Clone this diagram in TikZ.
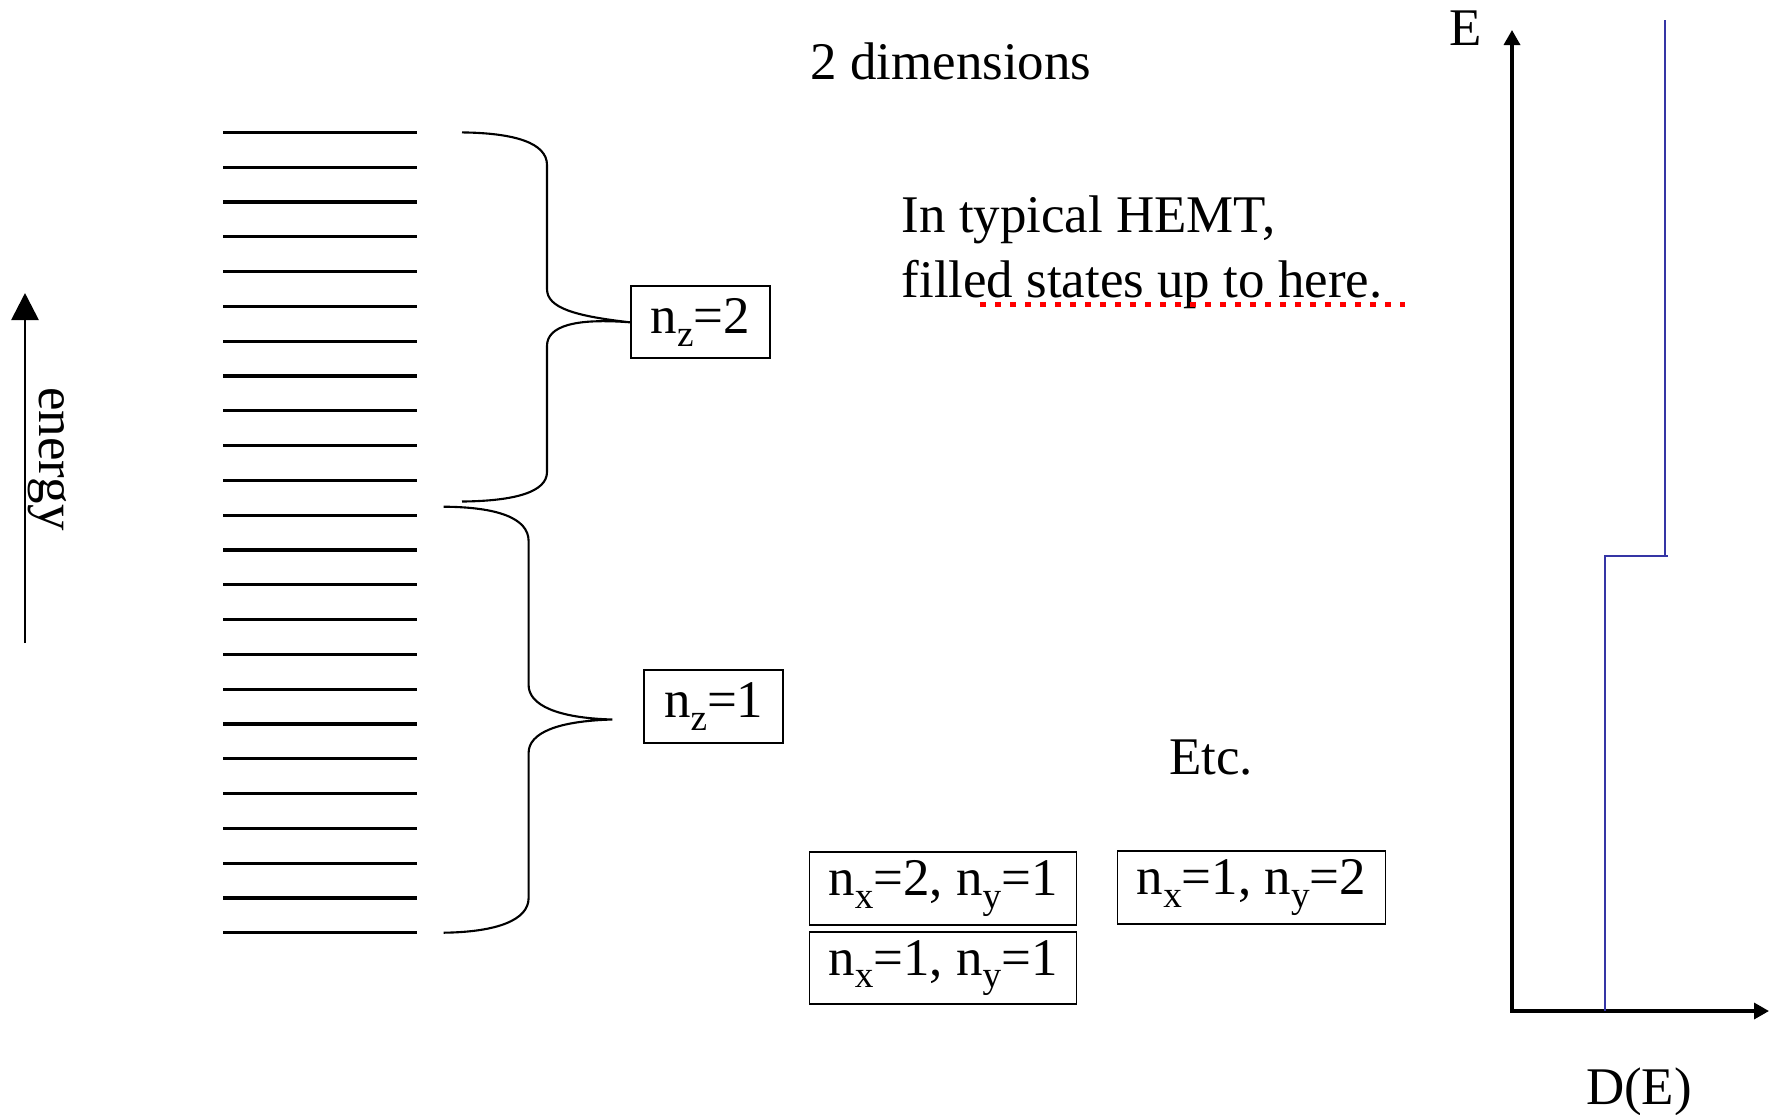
\documentclass[tikz,border=0pt]{standalone}
\usepackage{fontspec}
\setmainfont{Liberation Serif}
\usetikzlibrary{arrows.meta}
\definecolor{stepblue}{HTML}{3535A5}
\newcommand{\sbs}[1]{\raisebox{-0.24em}{\fontsize{10.6}{12}\selectfont #1}}
\begin{document}
\begin{tikzpicture}[x=0.01cm,y=-0.01cm,
  txt/.style={font=\fontsize{15.05}{18}\selectfont, inner sep=0pt},
  qbox/.style={draw, line width=0.55pt, inner sep=0pt, font=\fontsize{15.05}{18}\selectfont},
  level/.style={line width=0.95pt},
  brace/.style={line width=0.6pt},
  axis/.style={line width=0.95pt, -{Triangle[length=0.15cm,width=0.16cm]}},
  dos/.style={draw=stepblue, line width=0.7pt}
]
\useasboundingbox (0,0) rectangle (1775,1114);

% energy levels
\foreach \i in {0,...,23}{
  \draw[level] (223,{132.4+34.8*\i}) -- (416.6,{132.4+34.8*\i});
}

% boxes
\node[qbox, minimum width=139*0.01cm, minimum height=72*0.01cm] (nz2) at (700.3,322.3) {n\sbs{z}=2};
\node[qbox, minimum width=139*0.01cm, minimum height=72.5*0.01cm] (nz1) at (713.7,706.4) {n\sbs{z}=1};
\node[qbox, minimum width=267*0.01cm, minimum height=72.4*0.01cm] (b21) at (943,888.6) {n\sbs{x}=2, n\sbs{y}=1};
\node[qbox, minimum width=267*0.01cm, minimum height=72.5*0.01cm] (b11) at (943,967.9) {n\sbs{x}=1, n\sbs{y}=1};
\node[qbox, minimum width=268*0.01cm, minimum height=72.4*0.01cm] (b12) at (1251.5,887.5) {n\sbs{x}=1, n\sbs{y}=2};

% upper brace
\coordinate (ub1) at (462,132.4);
\coordinate (ub2) at (462,501.5);
\draw[brace] (ub1) .. controls (515,133) and (547,143) .. (547,165)
  -- (547,289) .. controls (547,308) and (575,316) .. (nz2.west)
  .. controls (575,318) and (547,326) .. (547,346)
  -- (547,472) .. controls (547,492) and (515,501) .. (ub2);

% lower brace
\coordinate (lb1) at (443.7,506.7);
\coordinate (lb2) at (443.7,932.7);
\coordinate (lbt) at (612.4,719.5);
\draw[brace] (lb1) .. controls (497,507) and (528.6,518) .. (528.6,541)
  -- (528.6,685) .. controls (528.6,705) and (557,718) .. (lbt)
  .. controls (557,721) and (528.6,733) .. (528.6,753)
  -- (528.6,898) .. controls (528.6,920) and (497,932) .. (lb2);

% energy arrow
\coordinate (ea0) at (25,643);
\coordinate (ea1) at (25,293);
\draw[line width=0.8pt, -{Triangle[length=0.27cm,width=0.27cm]}] (ea0) -- (ea1);
\node[txt, rotate=-90, anchor=base] (energy) at (39,459) {energy};

% texts
\node[txt, anchor=base] (title) at (951,79) {2 dimensions};
\node[txt, anchor=base west] (hemt1) at (901,232) {In typical HEMT,};
\node[txt, anchor=base west] (hemt2) at (901,297) {filled states up to here.};
\node[txt, anchor=base] (etc) at (1211,774) {Etc.};

% red dotted marker
\coordinate (rd0) at (980,304.5);
\coordinate (rd1) at (1405,304.5);
\draw[red, line width=1.6pt, dash pattern=on 0.058cm off 0.092cm] (rd0) -- (rd1);

% DOS axes
\coordinate (O) at (1512,1011);
\coordinate (Etop) at (1512,30);
\coordinate (Dr) at (1769,1011);
\draw[axis] ([xshift=-0.02cm]O) -- (Dr);
\draw[axis] (O) -- (Etop);
\node[txt, anchor=base] (Elab) at (1466,45) {E};
\node[txt, anchor=base] (DElab) at (1639,1104) {D(E)};

% step function
\coordinate (s0) at (1605,1011);
\coordinate (s1) at (1605,556);
\coordinate (s2) at (1668,556);
\coordinate (s3) at (1665,556);
\coordinate (s4) at (1665,20);
\draw[dos] (s0) -- (s1) -- (s2);
\draw[dos] (s3) -- (s4);
\end{tikzpicture}
\end{document}
